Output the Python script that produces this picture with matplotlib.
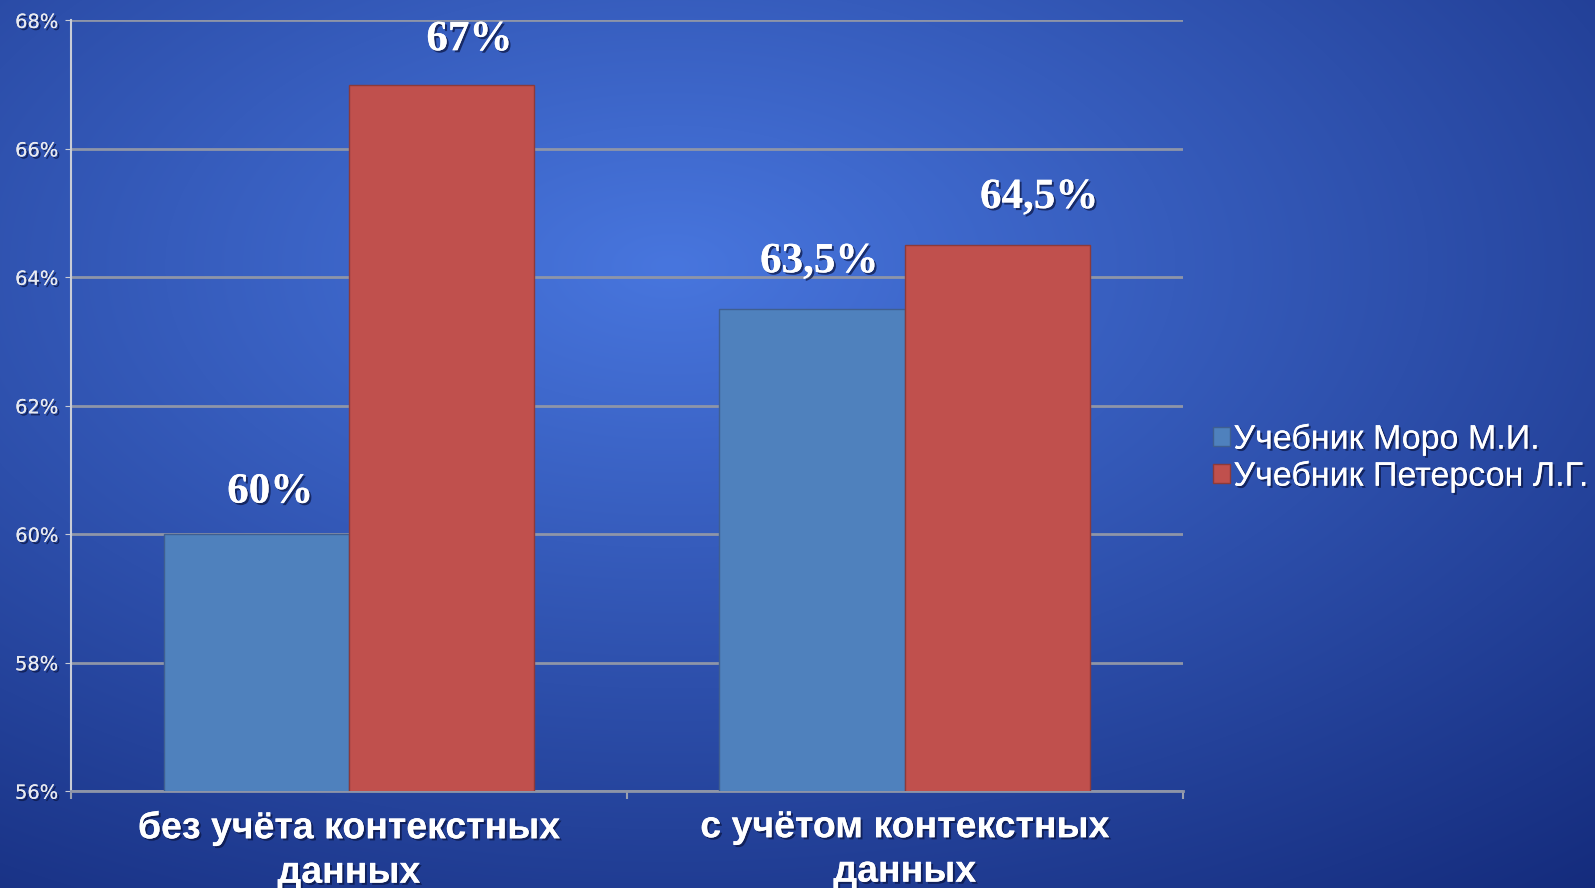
import numpy as np
import matplotlib
matplotlib.use("Agg")
import matplotlib.pyplot as plt
from matplotlib import ticker
from matplotlib import patheffects as pe
from matplotlib.patches import Patch

categories = ["без учёта контекстных\nданных", "с учётом контекстных\nданных"]
series_names = ["Учебник Моро М.И.", "Учебник Петерсон Л.Г."]
moro = [60.0, 63.5]
peterson = [67.0, 64.5]
value_labels = [["60%", "63,5%"], ["67%", "64,5%"]]
yticks = [56, 58, 60, 62, 64, 66, 68]

c_blue = "#4f81bd"
c_red = "#c0504d"

shadow = [pe.withSimplePatchShadow(offset=(1.5, -1.5), shadow_rgbFace="#0a1440", alpha=0.7),
          pe.Normal()]

fig = plt.figure(figsize=(15.95, 8.88), dpi=100)

# background: soft radial blue gradient
bg = fig.add_axes([0, 0, 1, 1], zorder=-5)
h, w = 888, 1595
yy, xx = np.mgrid[0:h, 0:w]
d = np.sqrt(((xx / w) - 0.42) ** 2 + ((yy / h) - 0.30) ** 2)
t = np.clip(d / 0.95, 0, 1)[..., None]
inner = np.array([72, 118, 222]) / 255
outer = np.array([18, 40, 120]) / 255
bg.imshow(inner + (outer - inner) * t, aspect="auto", interpolation="bilinear")
bg.axis("off")

ax = fig.add_axes([0.0445, 0.109, 0.697, 0.868])
ax.set_facecolor("none")

x = np.arange(len(categories))
bw = 1 / 3
b1 = ax.bar(x - bw / 2, moro, bw, color=c_blue, edgecolor="#3f5f90",
            linewidth=1, zorder=3, label=series_names[0])
b2 = ax.bar(x + bw / 2, peterson, bw, color=c_red, edgecolor="#8c3a3a",
            linewidth=1, zorder=3, label=series_names[1])

ax.set_ylim(56, 68)
ax.set_xlim(-0.5, 1.5)
ax.set_yticks(yticks)
ax.yaxis.set_major_formatter(ticker.FuncFormatter(lambda v, p: f"{int(v)}%"))
ax.grid(axis="y", color="#8e95a8", lw=2, zorder=1)
ax.set_axisbelow(True)

ax.set_xticks(x)
ax.set_xticklabels(categories, fontsize=27, fontweight="bold", color="white",
                   family="Liberation Sans", linespacing=1.3)
for lab in ax.get_xticklabels():
    lab.set_path_effects(shadow)
ax.set_xticks([-0.5, 0.5, 1.5], minor=True)
ax.tick_params(axis="x", which="major", length=0, pad=13)
ax.tick_params(axis="x", which="minor", length=6, color="#9aa0b0", width=1.5)
ax.tick_params(axis="y", length=4, color="#c8ccd6", labelsize=14, labelcolor="#e8eaf0", pad=5)
for lab in ax.get_yticklabels():
    lab.set_path_effects(shadow)

for s in ["top", "right"]:
    ax.spines[s].set_visible(False)
ax.spines["left"].set_color("#c8ccd6")
ax.spines["left"].set_linewidth(1.5)
ax.spines["bottom"].set_color("#8e95a8")
ax.spines["bottom"].set_linewidth(2)

# value labels above bars
offsets = [[(10, 30), (5, 34)], [(20, 32), (30, 34)]]
for si, bars in enumerate([b1, b2]):
    for bi, bar in enumerate(bars):
        dx, dy = offsets[si][bi]
        ax.annotate(value_labels[si][bi],
                    xy=(bar.get_x() + bar.get_width() / 2, bar.get_height()),
                    xytext=(dx, dy), textcoords="offset points",
                    ha="center", va="center", fontsize=31, fontweight="bold",
                    family="Liberation Serif", color="white",
                    path_effects=shadow, annotation_clip=False)

handles = [Patch(facecolor=c_blue, edgecolor="#3f5f90", label=series_names[0]),
           Patch(facecolor=c_red, edgecolor="#8c3a3a", label=series_names[1])]
leg = fig.legend(handles=handles, loc="center left", bbox_to_anchor=(0.752, 0.484),
                 frameon=False, handlelength=0.5, handleheight=0.5,
                 handletextpad=0.1, labelspacing=0.15, borderaxespad=0,
                 prop={"family": "Liberation Sans", "size": 24.5})
for txt in leg.get_texts():
    txt.set_color("white")
    txt.set_path_effects(shadow)

fig.savefig("out.png", dpi=100)
